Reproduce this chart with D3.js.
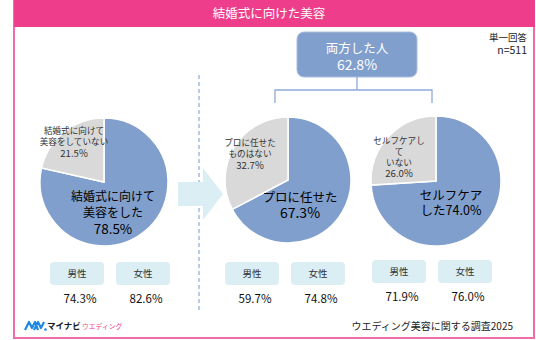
<!DOCTYPE html>
<html><head><meta charset="utf-8">
<script src="https://cdn.jsdelivr.net/npm/d3@7"></script>
<style>body{margin:0;background:#fff}svg{display:block}text{font-family:"Noto Sans CJK JP","Noto Sans",sans-serif}</style>
</head><body><svg id="c" width="536" height="340"></svg>
<script>
const title = "結婚式に向けた美容";
const pieNames = ["全体", "プロ", "セルフケア"];
const pieValues = [[78.5, 21.5], [67.3, 32.7], [74.0, 26.0]];
const pieMainLabels = [["結婚式に向けて", "美容をした", "78.5%"], ["プロに任せた", "67.3%"], ["セルフケア", "した74.0%"]];
const pieOtherLabels = [["結婚式に向けて", "美容をしていない", "21.5%"], ["プロに任せた", "ものはない", "32.7%"], ["セルフケアし", "て", "いない", "26.0%"]];
const genders = ["男性", "女性"];
const genderValues = [[74.3, 82.6], [59.7, 74.8], [71.9, 76.0]];
const bothLabel = "両方した人";
const bothValue = 62.8;
const note = ["単一回答", "n=511"];
const source = "ウエディング美容に関する調査2025";

const svg = d3.select("#c");
const pink = "#EE3E8B", blue = "#819FCC", gray = "#D9D9D9", light = "#DAEEF3", lineBlue = "#8EAADB";
const isNum = t => /^[\d.%]+$/.test(t);

// frame
svg.append("rect").attr("x", 14).attr("y", 0).attr("width", 520).attr("height", 338)
  .attr("fill", "#fff").attr("stroke", "#F26BAA").attr("stroke-width", 2);
svg.append("rect").attr("x", 14).attr("y", 0).attr("width", 521).attr("height", 27).attr("fill", pink);
svg.append("text").attr("x", 269).attr("y", 14).attr("dy", "0.35em").attr("text-anchor", "middle")
  .attr("fill", "#fff").attr("font-size", 12.5).text(title);

// note
note.forEach((t, i) => svg.append("text").attr("x", 527).attr("y", 38 + i * 12.5).attr("dy", "0.35em")
  .attr("text-anchor", "end").attr("font-size", i ? 10.5 : 9.5).attr("fill", "#222").text(t));

// dashed divider
svg.append("line").attr("x1", 199).attr("x2", 199).attr("y1", 75).attr("y2", 310)
  .attr("stroke", lineBlue).attr("stroke-width", 1.2).attr("stroke-dasharray", "4,3");

// arrow
svg.append("path").attr("d", "M178,182 L203,182 L203,168 L223,194 L203,220 L203,206 L178,206 Z").attr("fill", light);

// top box
const bx = 297, by = 32, bw = 120, bh = 45;
svg.append("rect").attr("x", bx).attr("y", by).attr("width", bw).attr("height", bh).attr("rx", 7)
  .attr("fill", blue).attr("stroke", "#A9BEDD").attr("stroke-width", 1);
svg.append("text").attr("x", bx + bw / 2).attr("y", 48.5).attr("dy", "0.35em").attr("text-anchor", "middle")
  .attr("fill", "#fff").attr("font-size", 12.5).text(bothLabel);
svg.append("text").attr("x", bx + bw / 2).attr("y", 65.5).attr("dy", "0.35em").attr("text-anchor", "middle")
  .attr("fill", "#fff").attr("font-size", 14).text(bothValue.toFixed(1) + "%");

// bracket
const bracket = d3.path();
bracket.moveTo(357, 77); bracket.lineTo(357, 90);
bracket.moveTo(275, 103); bracket.lineTo(275, 90); bracket.lineTo(432, 90); bracket.lineTo(432, 103);
svg.append("path").attr("d", bracket.toString()).attr("fill", "none").attr("stroke", lineBlue).attr("stroke-width", 1.3);

// pies
const centers = [[104, 182, 64], [288, 180, 63], [436, 181, 65]];
const pie = d3.pie().sort(null).startAngle(0).endAngle(2 * Math.PI);
const mainPos = [[113, 197, 16, 12], [300, 198, 15, 12.5], [451, 196, 15, 12.5]];
const otherPos = [[74, 131, 11.2, 8.6], [250, 143, 11.2, 8.6], [399, 141, 10.8, 8.6]];
centers.forEach(([cx, cy, r], i) => {
  const g = svg.append("g").attr("transform", `translate(${cx},${cy})`);
  const arc = d3.arc().innerRadius(0).outerRadius(r);
  g.selectAll("path").data(pie(pieValues[i])).join("path")
    .attr("d", arc).attr("fill", (d, j) => j === 0 ? blue : gray)
    .attr("stroke", "#fff").attr("stroke-width", 1.5);
  const [mx, my, ml, mf] = mainPos[i];
  pieMainLabels[i].forEach((t, k) => svg.append("text").attr("x", mx).attr("y", my + k * ml).attr("dy", "0.35em")
    .attr("text-anchor", "middle").attr("font-size", isNum(t) ? mf * 1.12 : mf).attr("fill", "#000").text(t));
  const [ox, oy, ol, of] = otherPos[i];
  pieOtherLabels[i].forEach((t, k) => svg.append("text").attr("x", ox).attr("y", oy + k * ol).attr("dy", "0.35em")
    .attr("text-anchor", "middle").attr("font-size", isNum(t) ? of * 1.12 : of).attr("fill", "#333").text(t));
});

// gender boxes
const gx = [[50, 116], [225, 291], [372, 438]];
const gy = [262, 262, 260];
genderValues.forEach((vals, i) => {
  vals.forEach((v, j) => {
    const x = gx[i][j], y = gy[i];
    svg.append("rect").attr("x", x).attr("y", y).attr("width", 54).attr("height", 23).attr("rx", 4).attr("fill", light);
    svg.append("text").attr("x", x + 27).attr("y", y + 12).attr("dy", "0.35em").attr("text-anchor", "middle")
      .attr("font-size", 9.5).attr("fill", "#333").text(genders[j]);
    svg.append("text").attr("x", x + 30).attr("y", y + 37).attr("dy", "0.35em").attr("text-anchor", "middle")
      .attr("font-size", 11.5).attr("fill", "#111").text(v.toFixed(1) + "%");
  });
});

// footer logo
svg.append("path").attr("d", "M25,330 L29,322 L32,328 L35,322 L38,330 M34,330 L38,322 L41,328 L44,322")
  .attr("fill", "none").attr("stroke", "#1E88E5").attr("stroke-width", 2.2).attr("stroke-linejoin", "round");
svg.append("circle").attr("cx", 45.5).attr("cy", 329.5).attr("r", 1.3).attr("fill", "#1E88E5");
svg.append("text").attr("x", 47).attr("y", 326).attr("dy", "0.35em").attr("font-size", 8.5).attr("font-weight", 700)
  .attr("fill", "#1a1a1a").text("マイナビ");
svg.append("text").attr("x", 82).attr("y", 327).attr("dy", "0.35em").attr("font-size", 6.8)
  .attr("fill", "#EE3E8B").text("ウエディング");
svg.append("text").attr("x", 513).attr("y", 326).attr("dy", "0.35em").attr("text-anchor", "end")
  .attr("font-size", 10).attr("fill", "#222").text(source);
</script></body></html>
